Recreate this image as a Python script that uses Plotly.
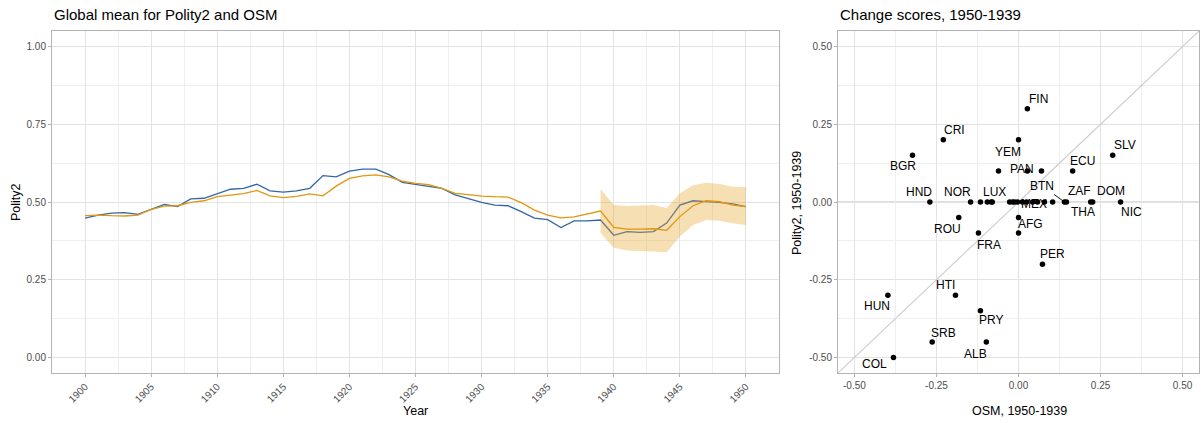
import plotly.graph_objects as go

# ---- Global means, 1900-1950 ----
years = list(range(1900, 1951))
polity2_mean = [
    0.448, 0.458, 0.464, 0.466, 0.460, 0.476, 0.492, 0.485, 0.510, 0.512,
    0.526, 0.541, 0.544, 0.557, 0.536, 0.532, 0.536, 0.544, 0.585, 0.581,
    0.599, 0.606, 0.606, 0.588, 0.563, 0.557, 0.551, 0.544, 0.523, 0.510,
    0.499, 0.490, 0.488, 0.469, 0.448, 0.443, 0.418, 0.439, 0.439, 0.442,
    0.393, 0.405, 0.402, 0.405, 0.432, 0.490, 0.504, 0.501, 0.499, 0.494,
    0.485,
]
osm_mean = [
    0.456, 0.458, 0.456, 0.455, 0.458, 0.476, 0.487, 0.488, 0.499, 0.504,
    0.517, 0.522, 0.527, 0.537, 0.520, 0.514, 0.518, 0.526, 0.520, 0.551,
    0.576, 0.584, 0.587, 0.581, 0.567, 0.560, 0.556, 0.544, 0.528, 0.524,
    0.519, 0.517, 0.516, 0.498, 0.474, 0.458, 0.449, 0.452, 0.462, 0.471,
    0.418, 0.413, 0.413, 0.414, 0.409, 0.453, 0.488, 0.504, 0.501, 0.490,
    0.485,
]
# uncertainty band for OSM, 1939-1950
band_years = list(range(1939, 1951))
osm_upper = [0.542, 0.490, 0.487, 0.488, 0.490, 0.481, 0.528, 0.554, 0.562, 0.558, 0.549, 0.548]
osm_lower = [0.400, 0.353, 0.344, 0.342, 0.341, 0.338, 0.389, 0.426, 0.442, 0.440, 0.432, 0.426]

year_ticks = list(range(1900, 1951, 5))
level_ticks = [0.0, 0.25, 0.5, 0.75, 1.0]
change_ticks = [-0.5, -0.25, 0.0, 0.25, 0.5]

# ---- Country change scores, 1950 minus 1939 ----
country = [
    "FIN", "CRI", "BGR", "YEM", "PAN", "SLV", "ECU", "HND", "NOR", "LUX",
    "MEX", "BTN", "ZAF", "DOM", "THA", "NIC", "AFG", "ROU", "FRA", "PER",
    "HTI", "HUN", "PRY", "SRB", "ALB", "COL",
    "", "", "", "", "", "", "", "", "", "", "", "", "", "", "",
]
osm_change = [
    0.027, -0.229, -0.323, 0.000, 0.027, 0.287, 0.165, -0.270, -0.146, -0.083,
    0.024, 0.140, 0.146, 0.226, 0.220, 0.311, 0.000, -0.182, -0.122, 0.073,
    -0.192, -0.398, -0.116, -0.263, -0.098, -0.381,
    -0.061, 0.070, -0.116, -0.095, -0.080, -0.027, -0.018, -0.012, -0.003,
    0.012, 0.043, 0.058, 0.079, 0.104, 0.000,
]
polity2_change = [
    0.30, 0.20, 0.15, 0.20, 0.10, 0.15, 0.10, 0.00, 0.00, 0.00,
    0.00, 0.00, 0.00, 0.00, 0.00, 0.00, -0.05, -0.05, -0.10, -0.20,
    -0.30, -0.30, -0.35, -0.45, -0.45, -0.50,
    0.10, 0.10, 0.00, 0.00, 0.00, 0.00, 0.00, 0.00, 0.00,
    0.00, 0.00, 0.00, 0.00, 0.00, -0.10,
]

# label placement (pixel offsets from the point: right, down)
label_offset = {
    "FIN": (11, -10), "CRI": (11, -10), "BGR": (-10, 11), "YEM": (-11, 12),
    "PAN": (-5, -2), "SLV": (12, -10), "ECU": (10, -10), "HND": (-11, -10),
    "NOR": (-13, -10), "LUX": (3, -10), "MEX": (8, 2), "ZAF": (13, -11),
    "DOM": (18, -11), "THA": (-8, 10), "NIC": (11, 10), "AFG": (12, 6),
    "ROU": (-11, 11), "FRA": (11, 12), "PER": (10, -10), "HTI": (-10, -10),
    "HUN": (-11, 11), "PRY": (11, 9), "SRB": (11, -9), "ALB": (-11, 12),
    "COL": (-19, 7),
}
# labels pushed away with a connector segment
label_leader = {"BTN": (-22, -16)}

FONT = "Liberation Sans, Arial, sans-serif"
BLUE = "#3366a6"
ORANGE = "#e3960f"
GRID = "#e3e3e3"
FRAME = "#b3b3b3"
TICKTXT = "#4d4d4d"
W, H = 1202, 423

fig = go.Figure()

# left panel: global means
fig.add_trace(go.Scatter(
    x=years, y=polity2_mean, mode="lines", line=dict(color=BLUE, width=1.3),
    xaxis="x", yaxis="y", showlegend=False, hoverinfo="skip"))
fig.add_trace(go.Scatter(
    x=band_years + band_years[::-1], y=osm_upper + osm_lower[::-1],
    fill="toself", fillcolor="rgba(230,160,30,0.34)", line=dict(width=0),
    mode="lines", xaxis="x", yaxis="y", showlegend=False, hoverinfo="skip"))
fig.add_trace(go.Scatter(
    x=years, y=osm_mean, mode="lines", line=dict(color=ORANGE, width=1.3),
    xaxis="x", yaxis="y", showlegend=False, hoverinfo="skip"))

# right panel: diagonal reference and points
fig.add_trace(go.Scatter(
    x=[-0.55, 0.55], y=[-0.55, 0.55], mode="lines",
    line=dict(color="#cccccc", width=1.1), xaxis="x2", yaxis="y2",
    showlegend=False, hoverinfo="skip"))
fig.add_trace(go.Scatter(
    x=osm_change, y=polity2_change, mode="markers",
    marker=dict(color="black", size=5.5), xaxis="x2", yaxis="y2",
    showlegend=False, hoverinfo="skip"))

annotations = []
for code, xv, yv in zip(country, osm_change, polity2_change):
    if code in label_offset:
        dx, dy = label_offset[code]
        annotations.append(dict(
            x=xv, y=yv, xref="x2", yref="y2", text=code, showarrow=False,
            xshift=dx, yshift=-dy, font=dict(family=FONT, size=12, color="black")))
    elif code in label_leader:
        ax, ay = label_leader[code]
        annotations.append(dict(
            x=xv, y=yv, xref="x2", yref="y2", text=code, showarrow=True,
            ax=ax, ay=ay, arrowhead=0, arrowwidth=0.9, arrowcolor="black",
            standoff=2, font=dict(family=FONT, size=12, color="black")))

def paper_x(px):
    return px / W

def paper_y(py):
    return 1 - py / H

annotations += [
    dict(x=paper_x(52), y=paper_y(14), xref="paper", yref="paper",
         text="Global mean for Polity2 and OSM", showarrow=False,
         xanchor="left", yanchor="middle", font=dict(family=FONT, size=15, color="black")),
    dict(x=paper_x(838), y=paper_y(14), xref="paper", yref="paper",
         text="Change scores, 1950-1939", showarrow=False,
         xanchor="left", yanchor="middle", font=dict(family=FONT, size=15, color="black")),
    dict(x=paper_x(415), y=paper_y(411), xref="paper", yref="paper", text="Year",
         showarrow=False, xanchor="center", yanchor="middle",
         font=dict(family=FONT, size=12.5, color="black")),
    dict(x=paper_x(16), y=paper_y(202), xref="paper", yref="paper", text="Polity2",
         showarrow=False, textangle=-90, xanchor="center", yanchor="middle",
         font=dict(family=FONT, size=12.5, color="black")),
    dict(x=paper_x(1019), y=paper_y(411), xref="paper", yref="paper",
         text="OSM, 1950-1939", showarrow=False, xanchor="center", yanchor="middle",
         font=dict(family=FONT, size=12.5, color="black")),
    dict(x=paper_x(797), y=paper_y(203), xref="paper", yref="paper",
         text="Polity2, 1950-1939", showarrow=False, textangle=-90,
         xanchor="center", yanchor="middle", font=dict(family=FONT, size=12.5, color="black")),
]

axis_common = dict(
    showline=True, mirror=True, linecolor=FRAME, linewidth=1,
    ticks="outside", ticklen=3, tickcolor=FRAME, tickwidth=1,
    tickfont=dict(family=FONT, size=10, color=TICKTXT),
    showgrid=True, gridcolor=GRID, gridwidth=1, zeroline=False,
)

ydom = [paper_y(373), paper_y(31)]

fig.update_layout(
    width=W, height=H, margin=dict(l=0, r=0, t=0, b=0),
    paper_bgcolor="white", plot_bgcolor="white",
    annotations=annotations,
    xaxis=dict(
        domain=[paper_x(52), paper_x(779)], range=[1897.5, 1952.5], anchor="y",
        tickvals=year_ticks, ticktext=[str(v) for v in year_ticks], tickangle=-45,
        minor=dict(dtick=2.5, tick0=1900, showgrid=True, gridcolor="#efefef",
                   gridwidth=0.6, ticks=""),
        **axis_common),
    yaxis=dict(
        domain=ydom, range=[-0.05, 1.05], anchor="x",
        tickvals=level_ticks, ticktext=[f"{v:.2f}" for v in level_ticks],
        minor=dict(tickvals=[0.125, 0.375, 0.625, 0.875], showgrid=True,
                   gridcolor="#efefef", gridwidth=0.6, ticks=""),
        **axis_common),
    xaxis2=dict(
        domain=[paper_x(838), paper_x(1199)], range=[-0.55, 0.55], anchor="y2",
        tickvals=change_ticks, ticktext=[f"{v:.2f}" for v in change_ticks],
        minor=dict(tickvals=[-0.375, -0.125, 0.125, 0.375], showgrid=True,
                   gridcolor="#efefef", gridwidth=0.6, ticks=""),
        **axis_common),
    yaxis2=dict(
        domain=ydom, range=[-0.55, 0.55], anchor="x2",
        tickvals=change_ticks, ticktext=[f"{v:.2f}" for v in change_ticks],
        minor=dict(tickvals=[-0.375, -0.125, 0.125, 0.375], showgrid=True,
                   gridcolor="#efefef", gridwidth=0.6, ticks=""),
        **axis_common),
    shapes=[
        dict(type="line", xref="x2", yref="y2", x0=0, x1=0, y0=-0.55, y1=0.55,
             line=dict(color="#bdbdbd", width=1.1), layer="below"),
        dict(type="line", xref="x2", yref="y2", x0=-0.55, x1=0.55, y0=0, y1=0,
             line=dict(color="#bdbdbd", width=1.1), layer="below"),
    ],
)

fig.write_html("out.html")
